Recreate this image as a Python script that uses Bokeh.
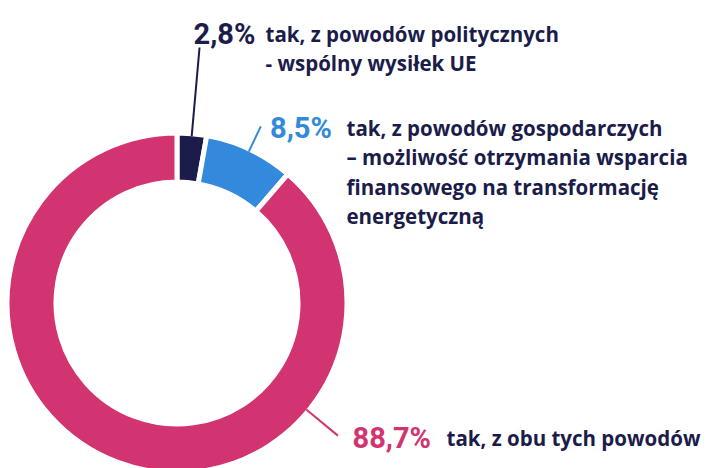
from bokeh.plotting import figure
from bokeh.models import Range1d
from bokeh.core.properties import value
from bokeh.embed import file_html
from bokeh.resources import INLINE
import math

# ---- data ----
shares = [2.8, 8.5, 88.7]
pct_labels = ["2,8%", "8,5%", "88,7%"]
desc_lines = [
    ["tak, z powodów politycznych", "- wspólny wysiłek UE"],
    ["tak, z powodów gospodarczych", "– możliwość otrzymania wsparcia",
     "finansowego na transformację", "energetyczną"],
    ["tak, z obu tych powodów"],
]
colors = ["#1b1c4a", "#3389db", "#d13471"]
NAVY = "#1b1c4a"

# ---- layout (screen pixels, y measured from top of window) ----
W, H = 707, 468
def Y(y_screen):
    return H - y_screen

cx, cy = 176.5, Y(302.5)
r_out, r_in = 167.5, 123.5
gap = 5

p = figure(width=W, height=H, output_backend="svg", toolbar_location=None,
           x_range=Range1d(0, W), y_range=Range1d(0, H),
           min_border=0)
p.axis.visible = False
p.grid.visible = False
p.outline_line_color = None
p.background_fill_color = "white"

total = sum(shares)
cum = 0.0
mids = []
starts, ends = [], []
for s in shares:
    a0 = 90 - cum / total * 360
    cum += s
    a1 = 90 - cum / total * 360
    starts.append(math.radians(a0))
    ends.append(math.radians(a1))
    mids.append((a0 + a1) / 2)

p.annular_wedge(x=[cx] * 3, y=[cy] * 3, inner_radius=r_in - gap / 2,
                outer_radius=r_out + gap / 2, start_angle=starts, end_angle=ends,
                direction="clock", fill_color=colors, line_color="white",
                line_width=gap)

# leader lines
leader_angles = [mids[0], mids[1], -39.5]
leader_len = [89, 28, 41]
for ang, ln, c in zip(leader_angles, leader_len, colors):
    a = math.radians(ang)
    x0 = cx + r_out * math.cos(a)
    y0 = cy + r_out * math.sin(a)
    x1 = cx + (r_out + ln) * math.cos(a)
    y1 = cy + (r_out + ln) * math.sin(a)
    p.line([x0, x1], [y0, y1], line_color=c, line_width=2)

# labels
pct_pos = [(193, 33), (269.5, 127), (352, 437)]
desc_pos = [(265, 33), (346, 127), (446, 437)]
line_h = 29.5
for i in range(3):
    px, py = pct_pos[i]
    p.text(x=[px], y=[Y(py)], text=[pct_labels[i]], text_color=colors[i],
           text_font=value("Roboto"), text_font_style="bold",
           text_font_size="29px", text_baseline="alphabetic", text_align="left")
    dx, dy = desc_pos[i]
    lines = desc_lines[i]
    p.text(x=[dx] * len(lines), y=[Y(dy + k * line_h) for k in range(len(lines))],
           text=lines, text_color=NAVY, text_font=value("Open Sans"),
           text_font_style="bold", text_font_size="20.5px",
           text_baseline="alphabetic", text_align="left")

open("out.html", "w").write(file_html(p, INLINE))
